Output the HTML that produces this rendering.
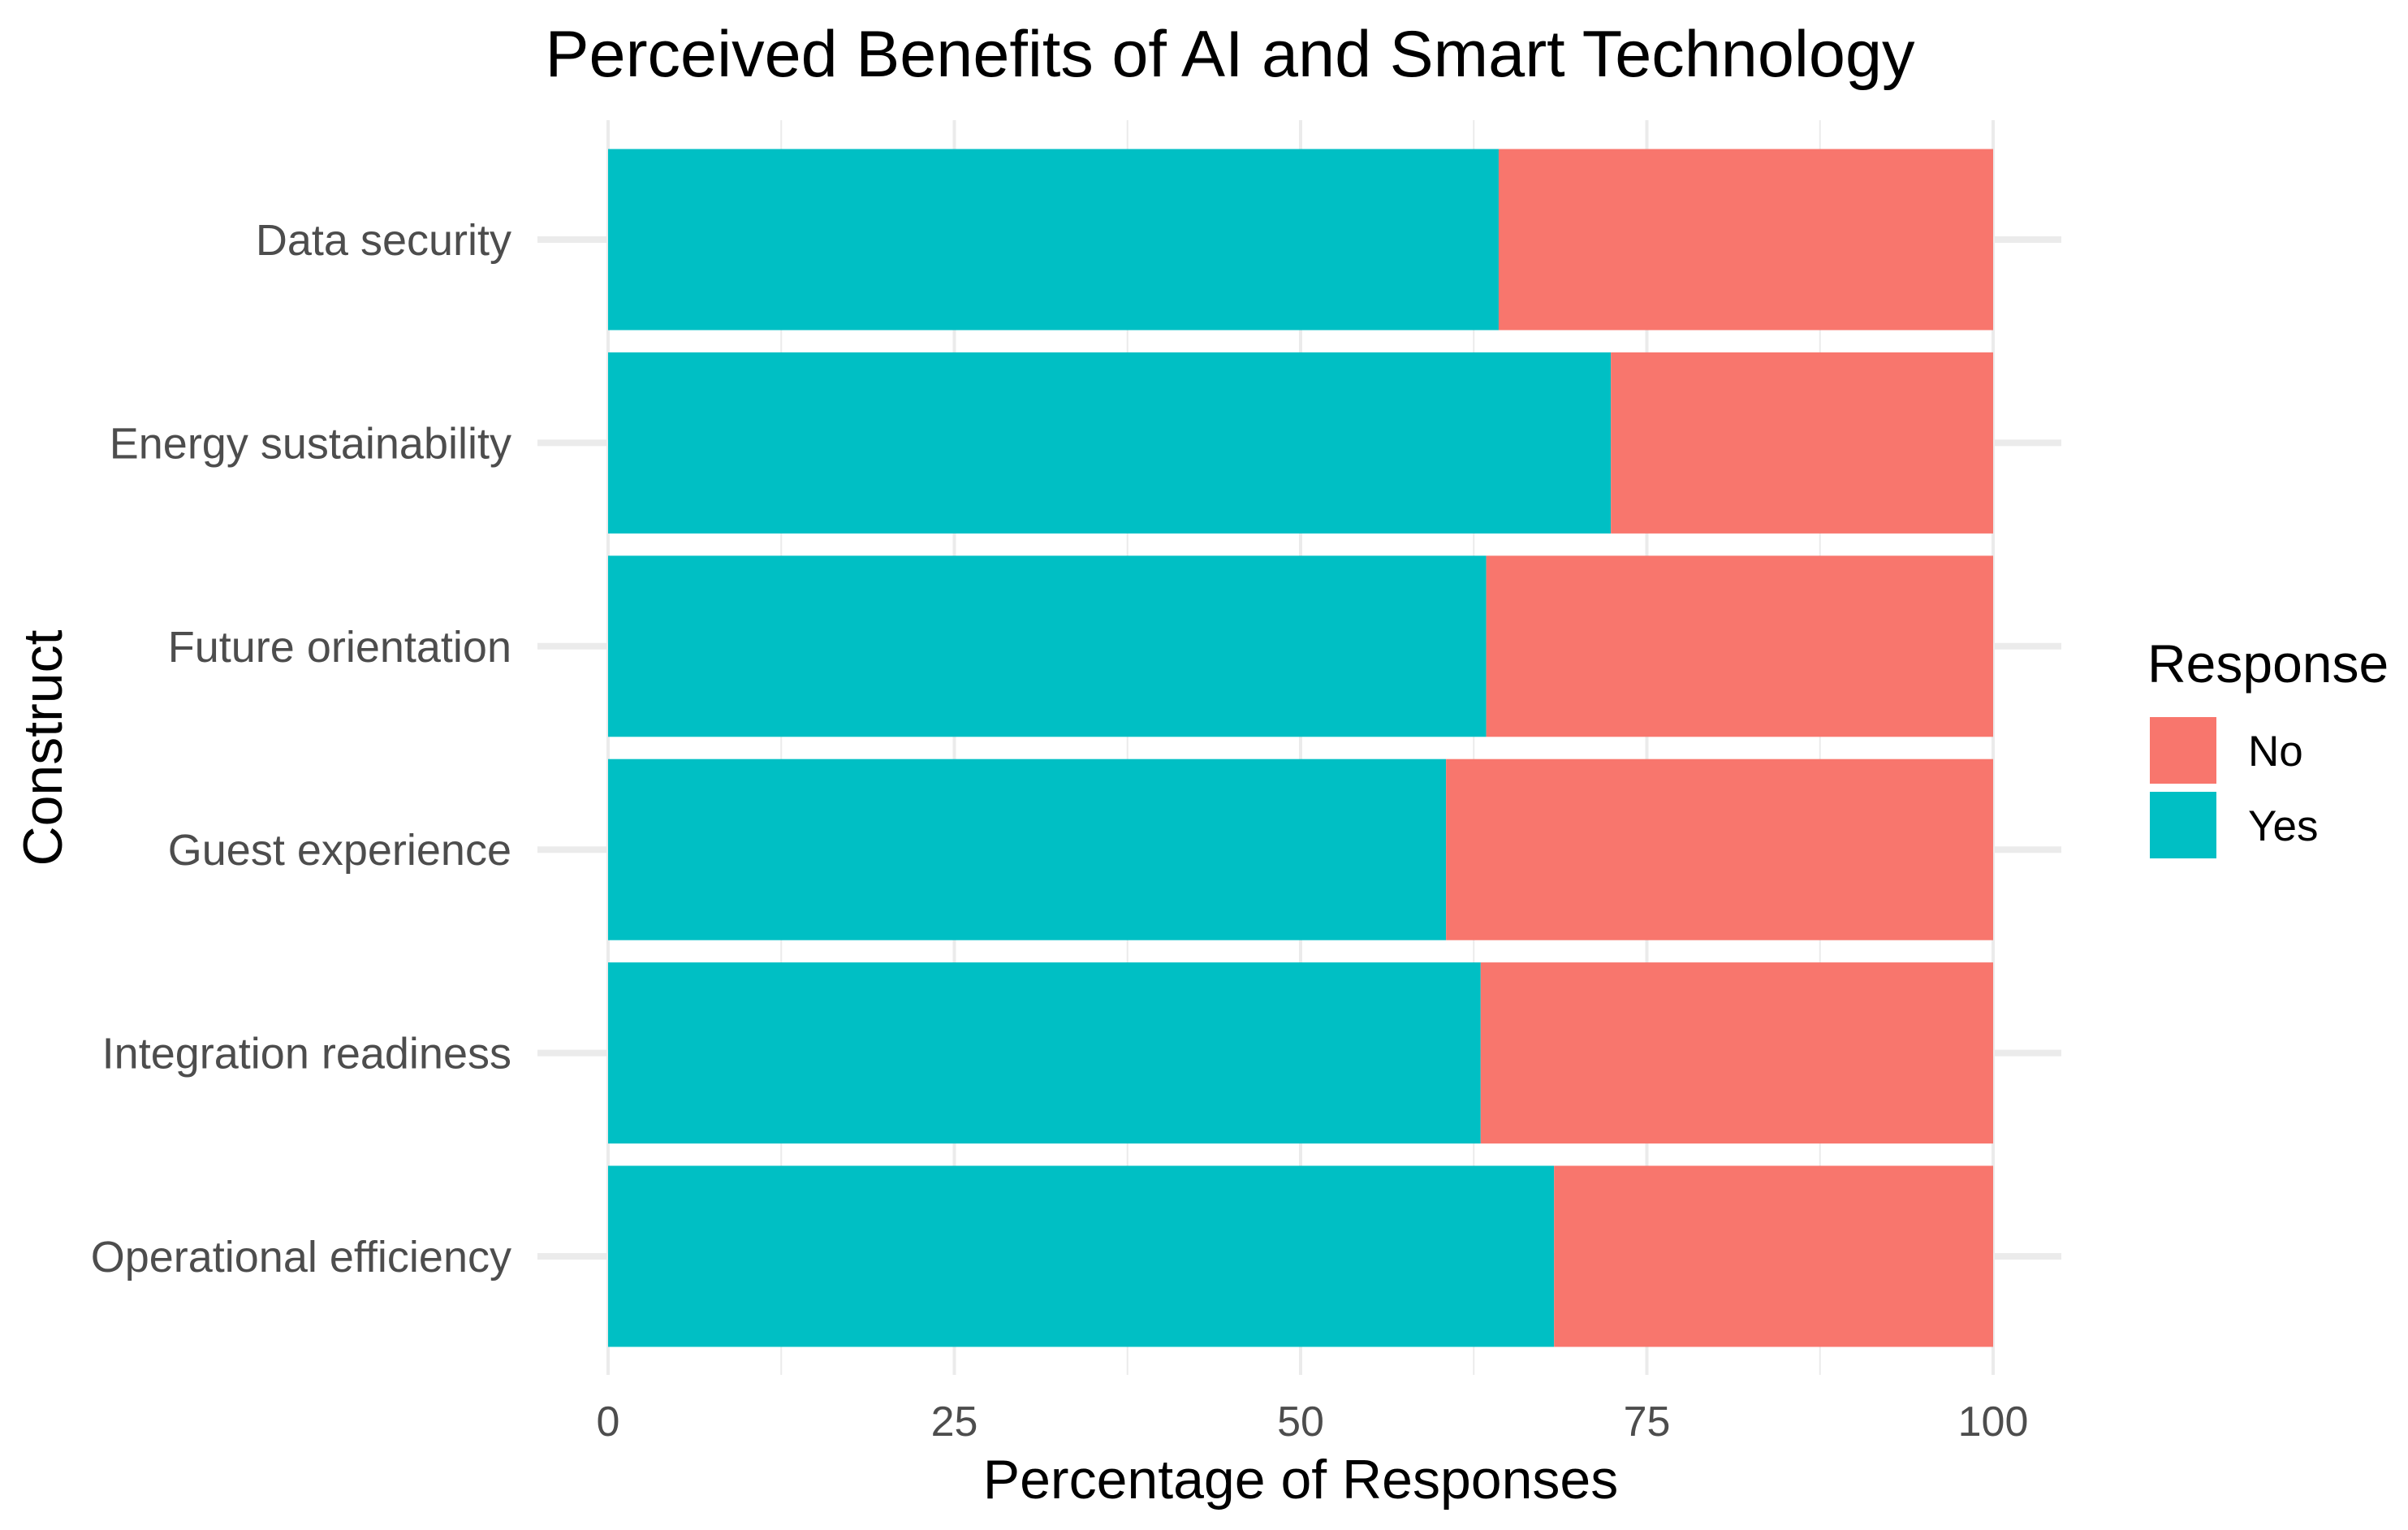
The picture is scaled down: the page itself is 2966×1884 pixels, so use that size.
<!DOCTYPE html>
<html><head><meta charset="utf-8"><style>
html,body{margin:0;padding:0;background:#fff;}
svg{display:block;font-family:"Liberation Sans",Arial,sans-serif;}
</style></head><body>
<svg id="chart" width="2966" height="1884" viewBox="0 0 2966 1884" xmlns="http://www.w3.org/2000/svg">
<text x="1515" y="94" font-size="81" text-anchor="middle" fill="#000">Perceived Benefits of AI and Smart Technology</text>
<g id="grid"></g><g id="bars"></g><g id="ylabels"></g><g id="xticks"></g>
<text x="1602" y="1845" font-size="68" text-anchor="middle" fill="#000">Percentage of Responses</text>
<text transform="translate(76,921) rotate(-90)" font-size="68" text-anchor="middle" fill="#000">Construct</text>
<g>
<text x="2645" y="840" font-size="66" fill="#000">Response</text>
<rect x="2648" y="883" width="82" height="82" fill="#F8766D"/>
<text x="2769" y="943" font-size="53" fill="#000">No</text>
<rect x="2648" y="975" width="82" height="82" fill="#00BFC4"/>
<text x="2769" y="1035" font-size="53" fill="#000">Yes</text>
</g>
</svg>
<script>
const categories=["Data security","Energy sustainability","Future orientation","Guest experience","Integration readiness","Operational efficiency"];
const yesValues=[64.3,72.4,63.4,60.5,63.0,68.3];
const noValues=[35.7,27.6,36.6,39.5,37.0,31.7];
const xTicks=[0,25,50,75,100];
const NS="http://www.w3.org/2000/svg";
const X0=749,X1=2455,TOP=148,BOT=1693,C0=295,STEP=250.4,BH=223;
const xs=v=>X0+(X1-X0)*v/100;
const yc=i=>C0+i*STEP;
function mk(t,a,p){const e=document.createElementNS(NS,t);for(const k in a)e.setAttribute(k,a[k]);p.appendChild(e);return e;}
const grid=document.getElementById('grid');
for(let v=0;v<=100;v+=12.5){const l=mk('line',{x1:xs(v),x2:xs(v),y1:TOP,y2:BOT,stroke:'#ebebeb','stroke-width':v%25===0?4:2},grid);

}
categories.forEach((c,i)=>{const l=mk('line',{x1:662,x2:2539,y1:yc(i),y2:yc(i),stroke:'#ebebeb','stroke-width':8},grid);

});
const bars=document.getElementById('bars');
categories.forEach((c,i)=>{
const y=yc(i)-BH/2;
const b1=mk('rect',{x:xs(0),y:y,width:xs(yesValues[i])-xs(0),height:BH,fill:'#00BFC4'},bars);


const b2=mk('rect',{x:xs(yesValues[i]),y:y,width:xs(yesValues[i]+noValues[i])-xs(yesValues[i]),height:BH,fill:'#F8766D'},bars);


const t=mk('text',{x:630,y:yc(i)+19,'font-size':54,'text-anchor':'end',fill:'#4d4d4d'},document.getElementById('ylabels'));
t.textContent=c;


});
xTicks.forEach(v=>{const t=mk('text',{x:xs(v),y:1768,'font-size':52,'text-anchor':'middle',fill:'#4d4d4d'},document.getElementById('xticks'));
t.textContent=v;

});
</script>
</body></html>
